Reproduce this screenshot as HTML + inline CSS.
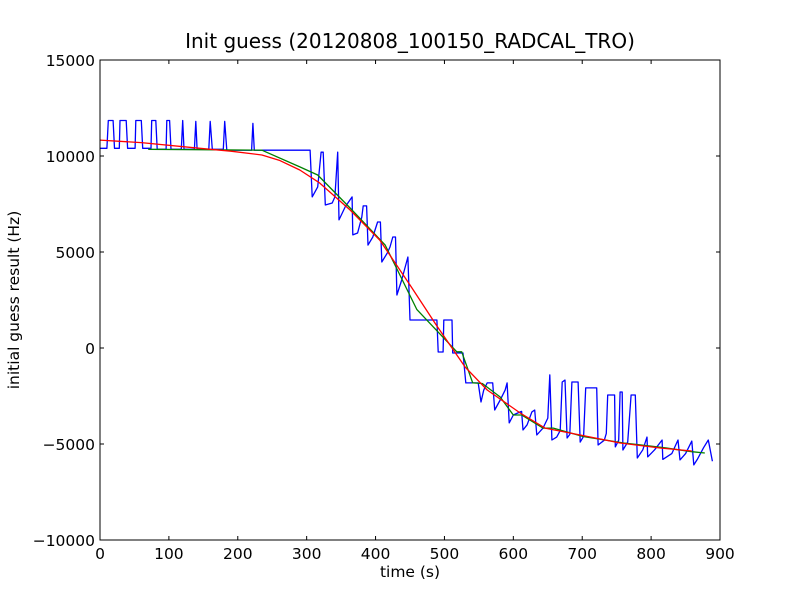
<!DOCTYPE html>
<html><head><meta charset="utf-8">
<style>
body{margin:0;background:#fff;}
svg text{font-family:"DejaVu Sans","Liberation Sans",sans-serif;}
</style></head>
<body>
<svg id="chart" width="800" height="600" xmlns="http://www.w3.org/2000/svg">
<rect x="0" y="0" width="800" height="600" fill="#fff"/>
<g id="plot"></g>
</svg>
<script>
const xTicks=[0,100,200,300,400,500,600,700,800,900];
const yTicks=[-10000,-5000,0,5000,10000,15000];
const blueT=[0,10,12,19,21,28,29,38,40,51,52,60,62,74,75,81,83,96,97,101,103,118,120,122,137,139,141,158,160,163,179,181,184,220,222,224,290,305,308,316,321,324,327,337,341,345,347,356,366,367,374,380,382,387,389,396,403,407,409,417,421,425,429,431,438,443,447,450,489,491,498,499,511,512,527,531,546,549,553,557,562,570,573,581,588,591,594,600,610,612,614,620,627,631,634,643,650,653,656,663,668,671,675,678,682,685,694,697,702,705,721,723,732,735,737,747,748,753,755,758,759,766,771,777,780,788,794,795,805,816,817,830,839,842,850,859,862,867,876,883,889,892];
const blueV=[10400,10400,11850,11850,10400,10400,11850,11850,10400,10400,11850,11850,10400,10400,11850,11850,10350,10350,11850,11850,10350,10350,11850,10350,10350,11800,10350,10350,11800,10350,10350,11800,10300,10300,11700,10300,10300,10300,7870,8390,10200,10200,7450,7550,7870,10200,6670,7350,7870,5890,5990,6820,7400,7400,5360,5780,6560,6560,4480,4950,5260,5780,5780,2760,3540,4220,4740,1460,1460,-210,-210,1460,1460,-260,-260,-1820,-1820,-1820,-2810,-2200,-1820,-1820,-3230,-2710,-2200,-1820,-3900,-3490,-3330,-3300,-4270,-4000,-3330,-3230,-4530,-4170,-3650,-1400,-4790,-4640,-4300,-1770,-1670,-4690,-4500,-1770,-1770,-4900,-4600,-2080,-2080,-5050,-4800,-4450,-2450,-2450,-5150,-4800,-2290,-2290,-5310,-4900,-2450,-2450,-5730,-5300,-4640,-5670,-5300,-4790,-5800,-5500,-4790,-5830,-5500,-4850,-6090,-5800,-5200,-4790,-5900];
const greenT=[70,235,290,316,363,414,460,518,525,541,555,581,600,612,643,658,700,760,820,859,878];
const greenV=[10350,10300,9430,9010,7290,5360,2000,-200,-200,-1820,-1850,-2550,-3490,-3490,-4170,-4170,-4600,-4950,-5200,-5400,-5470];
const redT=[0,60,145,190,235,260,290,319,363,406,450,489,530,562,610,646,697,755,813,859];
const redV=[10830,10700,10400,10250,10050,9780,9270,8590,7190,5625,3280,1146,-990,-2190,-3385,-4170,-4530,-4950,-5210,-5365];

const L=100,R=720,T=60,B=540;
const xs=t=>L+(t-0)/900*(R-L);
const ys=v=>B-(v+10000)/25000*(B-T);
const NS="http://www.w3.org/2000/svg";
const svg=document.getElementById('chart');
function mk(tag,attrs,parent){const e=document.createElementNS(NS,tag);for(const k in attrs)e.setAttribute(k,attrs[k]);(parent||svg).appendChild(e);return e;}
const plot=document.getElementById('plot');
function line(ts,vs,color,name){
  const d=ts.map((t,i)=>(i?'L':'M')+xs(t).toFixed(1)+','+ys(vs[i]).toFixed(1)).join(' ');
  const p=mk('path',{d:d,fill:'none',stroke:color,'stroke-width':1.3,'stroke-linejoin':'round'},plot);
  
  
}
line(blueT,blueV,'#0000ff','blue-series');
line(greenT,greenV,'#008000','green-series');
line(redT,redV,'#ff0000','red-series');
const frame=mk('rect',{x:L,y:T,width:R-L,height:B-T,fill:'none',stroke:'#000','stroke-width':1});


xTicks.forEach(t=>{
  const x=xs(t);
  mk('line',{x1:x,y1:B,x2:x,y2:B-4,stroke:'#000'});
  mk('line',{x1:x,y1:T,x2:x,y2:T+4,stroke:'#000'});
  const tx=mk('text',{x:x,y:B+19,'text-anchor':'middle','font-size':15.5});
  tx.textContent=t;
  
  
});
yTicks.forEach(v=>{
  const y=ys(v);
  mk('line',{x1:L,y1:y,x2:L+4,y2:y,stroke:'#000'});
  mk('line',{x1:R,y1:y,x2:R-4,y2:y,stroke:'#000'});
  const tx=mk('text',{x:L-5,y:y+6,'text-anchor':'end','font-size':15.5});
  tx.textContent=v<0?'\u2212'+(-v):String(v);
  
  
});
const title=mk('text',{x:410,y:48,'text-anchor':'middle','font-size':20});
title.textContent='Init guess (20120808_100150_RADCAL_TRO)';


const xl=mk('text',{x:410,y:577,'text-anchor':'middle','font-size':15.5});
xl.textContent='time (s)';


const yl=mk('text',{x:19,y:300,'text-anchor':'middle','font-size':15.5,transform:'rotate(-90 19 300)'});
yl.textContent='initial guess result (Hz)';


</script>
</body></html>
